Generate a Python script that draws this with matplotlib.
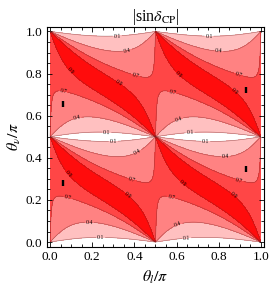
import numpy as np
import matplotlib
matplotlib.use("Agg")
import matplotlib.pyplot as plt
from matplotlib.ticker import MultipleLocator

plt.rcParams['font.family'] = ['Liberation Serif', 'DejaVu Serif']
plt.rcParams['mathtext.fontset'] = 'stix'

# ---- data -------------------------------------------------------------
levels = [0.1, 0.4, 0.7, 0.9]
fill_colors = ['#ffffff', '#ffc0c0', '#ff8282', '#ff4646', '#ff0c0c']
alpha_l = 0.98   # edge ratio term (theta_l)
beta_n = 1.40    # neutrino-angle term
label_x = [0.319, 0.368, 0.406, 0.343, 0.098, 0.066, 0.13, 0.269,
           0.754, 0.80, 0.889, 0.856, 0.589, 0.58, 0.608, 0.664,
           0.30, 0.43, 0.39, 0.379, 0.098, 0.086, 0.186, 0.24,
           0.738, 0.831, 0.893, 0.847, 0.611, 0.573, 0.605, 0.648]
label_y = [0.978, 0.903, 0.797, 0.776, 0.814, 0.727, 0.58, 0.52,
           0.978, 0.903, 0.782, 0.695, 0.776, 0.703, 0.592, 0.52,
           0.47, 0.40, 0.30, 0.238, 0.333, 0.216, 0.09, 0.016,
           0.473, 0.411, 0.28, 0.194, 0.263, 0.205, 0.089, 0.016]
mark_x = [0.063, 0.063, 0.929, 0.929]
mark_lo = [0.641, 0.268, 0.708, 0.335]
mark_hi = [0.668, 0.295, 0.737, 0.363]
ticks = [0.0, 0.2, 0.4, 0.6, 0.8, 1.0]

# ---- field --------------------------------------------------------------
g = np.linspace(0.0, 1.0, 801)
TL, TN = np.meshgrid(g, g)
a = 2 * np.pi * TL
b = 2 * np.pi * TN
A = np.sin(b)
B = alpha_l * np.sin(b) * np.cos(a) + beta_n * np.cos(b) * np.sin(a)
F = np.abs(A) / np.sqrt(A ** 2 + B ** 2 + 1e-15)

# ---- figure -------------------------------------------------------------
fig = plt.figure(figsize=(2.70, 2.93), dpi=100)
ax = fig.add_axes([0.173, 0.158, 0.805, 0.749])
ax.contourf(TL, TN, F, levels=[0] + levels + [1.01], colors=fill_colors)
cs = ax.contour(TL, TN, F, levels=levels, colors=[(0.45, 0.15, 0.15, 0.55)],
                linewidths=0.45)
ax.clabel(cs, fmt='%.1f', fontsize=4.2, inline=True, inline_spacing=1,
          manual=list(zip(label_x, label_y)), colors='black')
for mx, lo, hi in zip(mark_x, mark_lo, mark_hi):
    ax.plot([mx, mx], [lo, hi], color='black', lw=1.7, solid_capstyle='butt')

ax.set_xlim(-0.016, 1.015)
ax.set_ylim(-0.022, 1.02)
ax.set_xticks(ticks)
ax.set_yticks(ticks)
ax.set_xticklabels([f"{t:.1f}" for t in ticks])
ax.set_yticklabels([f"{t:.1f}" for t in ticks])
ax.xaxis.set_minor_locator(MultipleLocator(0.05))
ax.yaxis.set_minor_locator(MultipleLocator(0.05))
ax.tick_params(which='both', direction='in', top=True, right=True,
               labelsize=9.5, width=0.6, pad=3)
ax.tick_params(which='major', length=3.5)
ax.tick_params(which='minor', length=2)
for s in ax.spines.values():
    s.set_linewidth(0.8)
ax.set_xlabel(r'$\theta_l/\pi$', fontsize=11.5, labelpad=4)
ax.set_ylabel(r'$\theta_\nu/\pi$', fontsize=11.5, labelpad=2)
ax.set_title(r'|sin$\delta_{\rm CP}$|', fontsize=11.5, pad=4)
fig.savefig("out.png", dpi=100)
